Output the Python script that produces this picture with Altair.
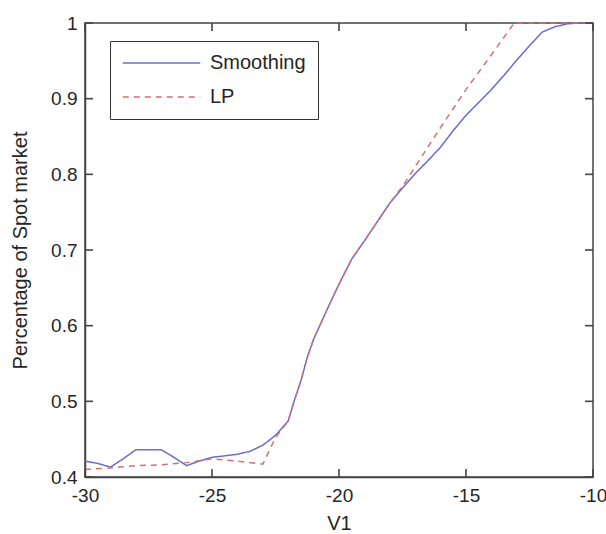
import altair as alt
import pandas as pd

# Smoothing curve
smooth_x = [-30, -29.5, -29, -28.5, -28, -27.5, -27, -26.5, -26, -25.5, -25, -24.5, -24,
            -23.5, -23, -22.5, -22, -21.75, -21.5, -21.25, -21, -20.5, -20, -19.5, -19,
            -18.5, -18, -17.5, -17, -16.5, -16, -15.5, -15, -14.5, -14, -13.5, -13,
            -12.5, -12, -11.5, -11, -10.5, -10]
smooth_y = [0.421, 0.418, 0.413, 0.424, 0.436, 0.436, 0.436, 0.426, 0.415, 0.421, 0.426, 0.428, 0.430,
            0.434, 0.442, 0.455, 0.474, 0.502, 0.527, 0.558, 0.582, 0.619, 0.655, 0.688, 0.712,
            0.737, 0.762, 0.782, 0.801, 0.818, 0.836, 0.858, 0.878, 0.895, 0.912, 0.931, 0.951,
            0.970, 0.988, 0.995, 0.999, 1.0, 1.0]

# LP curve
lp_x = [-30, -29, -28, -27, -26, -25, -24, -23, -22.5, -22, -21.75, -21.5, -21.25, -21,
        -20.5, -20, -19.5, -19, -18.5, -18, -17.5, -17, -16, -15, -14, -13.1, -12, -11, -10]
lp_y = [0.410, 0.412, 0.415, 0.416, 0.419, 0.424, 0.421, 0.417, 0.452, 0.474, 0.502, 0.527, 0.558, 0.582,
        0.619, 0.655, 0.688, 0.712, 0.737, 0.762, 0.784, 0.810, 0.862, 0.912, 0.958, 1.0, 1.0, 1.0, 1.0]

series_names = ["Smoothing", "LP"]
series_colors = ["#6b6bcf", "#d07272"]
series_dash = [[1, 0], [6, 5]]

x_ticks = [-30, -25, -20, -15, -10]
y_ticks = [0.4, 0.5, 0.6, 0.7, 0.8, 0.9, 1.0]

rows = []
for x, y in zip(smooth_x, smooth_y):
    rows.append({"V1": x, "val": y, "series": "Smoothing"})
for x, y in zip(lp_x, lp_y):
    rows.append({"V1": x, "val": y, "series": "LP"})
df = pd.DataFrame(rows)

W, H = 508, 454
FONT = "Liberation Sans"
TXT = "#262626"
AX = "#444444"
TL = 8

xscale = alt.Scale(domain=[-30, -10], nice=False, zero=False)
yscale = alt.Scale(domain=[0.4, 1.0], nice=False, zero=False)

lines = alt.Chart(df).mark_line(strokeWidth=1.5).encode(
    x=alt.X("V1:Q", scale=xscale,
            axis=alt.Axis(values=x_ticks, title="V1", ticks=False, grid=False, labelFlush=False,
                          labelExpr="toString(datum.value)", labelPadding=9,
                          titleX=W / 2, titleY=46, titleBaseline="middle")),
    y=alt.Y("val:Q", scale=yscale,
            axis=alt.Axis(values=y_ticks, title="Percentage of Spot market", ticks=False, grid=False,
                          labelFlush=False,
                          labelExpr="toString(datum.value)", labelPadding=8,
                          titleX=-65, titleY=H / 2, titleBaseline="middle")),
    color=alt.Color("series:N", scale=alt.Scale(domain=series_names, range=series_colors),
                    legend=alt.Legend(title=None, orient="none", legendX=25, legendY=18,
                                      symbolType="stroke", symbolSize=6000, symbolStrokeWidth=1.5,
                                      clipHeight=20, rowPadding=14, labelOffset=9,
                                      padding=12, strokeColor="#333333", fillColor="white",
                                      labelFontSize=20, labelFont=FONT, labelColor=TXT)),
    strokeDash=alt.StrokeDash("series:N", scale=alt.Scale(domain=series_names, range=series_dash)),
)

xt = pd.DataFrame({"t": x_ticks})
yt = pd.DataFrame({"t": y_ticks})

# inward tick marks drawn as tick marks (short bars) on all four sides
tkp = dict(color=AX, thickness=1.6, size=TL, opacity=1)
bottom_t = alt.Chart(xt).mark_tick(**tkp).encode(x=alt.X("t:Q", scale=xscale), y=alt.value(H - TL / 2))
top_t = alt.Chart(xt).mark_tick(**tkp).encode(x=alt.X("t:Q", scale=xscale), y=alt.value(TL / 2))
left_t = alt.Chart(yt).mark_tick(**tkp).encode(y=alt.Y("t:Q", scale=yscale), x=alt.value(TL / 2))
right_t = alt.Chart(yt).mark_tick(**tkp).encode(y=alt.Y("t:Q", scale=yscale), x=alt.value(W - TL / 2))

chart = alt.layer(lines, bottom_t, top_t, left_t, right_t).properties(
    width=W, height=H,
    autosize=alt.AutoSizeParams(type="none"),
    padding={"left": 85, "top": 23, "right": 13, "bottom": 57},
    background="white",
).configure_view(
    stroke=AX, strokeWidth=1.5
).configure_axis(
    domainColor=AX, domainWidth=1.5,
    labelFont=FONT, labelFontSize=19, labelColor=TXT,
    titleFont=FONT, titleFontSize=20, titleFontWeight="normal", titleColor=TXT,
)

chart.save("out.html", embed_options={"renderer": "svg", "actions": False})
